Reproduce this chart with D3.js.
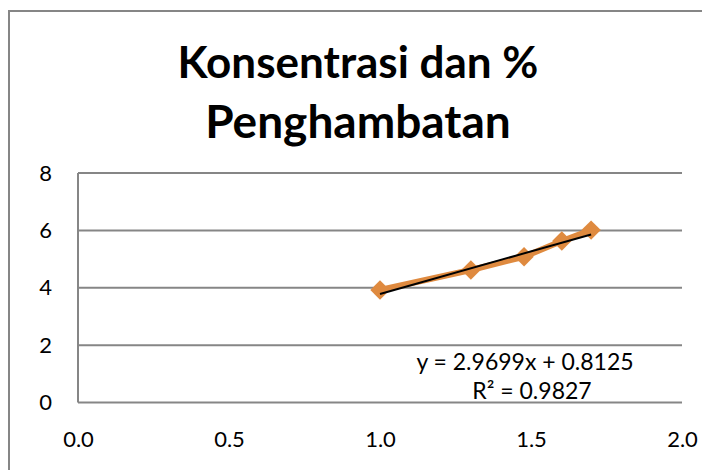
<!DOCTYPE html>
<html>
<head>
<meta charset="utf-8">
<script src="https://cdn.jsdelivr.net/npm/d3@7"></script>
<style>
  html, body { margin: 0; padding: 0; background: #fff; }
  svg { display: block; }
</style>
</head>
<body>
<svg id="chart" width="702" height="470"></svg>
<script>
'use strict';

// log10 of concentration vs probit of % inhibition
var konsentrasi = [1.0, 1.301, 1.477, 1.602, 1.699];
var penghambatan = [3.92, 4.62, 5.08, 5.63, 6.01];
var xTicks = [0, 0.5, 1.0, 1.5, 2.0];
var yTicks = [0, 2, 4, 6, 8];
var titleLines = ['Konsentrasi dan %', 'Penghambatan'];
var trendSlope = 2.9699;
var trendIntercept = 0.8125;
var trendLabels = ['y = 2.9699x + 0.8125', 'R² = 0.9827'];

var font = 'Lato, "Open Sans", sans-serif';
var gridColor = '#868686';
var orange = '#DF8A3F';

var svg = d3.select('#chart');

// outer chart border (runs off the right and bottom of the picture)
svg.append('rect')
  .attr('x', 9)
  .attr('y', 11)
  .attr('width', 720)
  .attr('height', 480)
  .attr('fill', 'none')
  .attr('stroke', gridColor)
  .attr('stroke-width', 2);

var plot = { left: 78, right: 682, top: 173, bottom: 402.5 };

var x = d3.scaleLinear().domain([0, 2]).range([plot.left, plot.right]);
var y = d3.scaleLinear().domain([0, 8]).range([plot.bottom, plot.top]);

// title
svg.append('g')
  .selectAll('text')
  .data(titleLines)
  .enter()
  .append('text')
  .attr('x', 358)
  .attr('y', function(d, i) {
    return 78 + i * 60;
  })
  .attr('text-anchor', 'middle')
  .style('font-family', font)
  .style('font-weight', 'bold')
  .style('font-size', function(d, i) {
    return i === 0 ? '44px' : '46px';
  })
  .text(function(d) {
    return d;
  });

// horizontal gridlines
svg.append('g')
  .selectAll('line')
  .data(yTicks)
  .enter()
  .append('line')
  .attr('x1', plot.left)
  .attr('x2', plot.right)
  .attr('y1', function(d) { return y(d); })
  .attr('y2', function(d) { return y(d); })
  .attr('stroke', gridColor)
  .attr('stroke-width', 2);

// value axis line
svg.append('line')
  .attr('x1', plot.left)
  .attr('x2', plot.left)
  .attr('y1', y(8))
  .attr('y2', y(0))
  .attr('stroke', gridColor)
  .attr('stroke-width', 2);

var yAxis = svg.append('g')
  .attr('transform', 'translate(' + plot.left + ',0)')
  .call(d3.axisLeft(y).tickValues(yTicks).tickSize(0).tickPadding(26).tickFormat(d3.format('d')));

var xAxis = svg.append('g')
  .attr('transform', 'translate(0,' + plot.bottom + ')')
  .call(d3.axisBottom(x).tickValues(xTicks).tickSize(0).tickPadding(29).tickFormat(d3.format('.1f')));

[xAxis, yAxis].forEach(function(axis) {
  axis.select('.domain').remove();
  axis.selectAll('text')
    .style('font-family', font)
    .style('font-size', '22px')
    .attr('fill', '#000');
});

// series line
var line = d3.line()
  .x(function(d) { return x(d[0]); })
  .y(function(d) { return y(d[1]); });

var points = d3.zip(konsentrasi, penghambatan);

svg.append('path')
  .datum(points)
  .attr('d', line)
  .attr('fill', 'none')
  .attr('stroke', orange)
  .attr('stroke-width', 6)
  .attr('stroke-linejoin', 'round');

svg.append('g')
  .selectAll('path')
  .data(points)
  .enter()
  .append('path')
  .attr('transform', function(d) {
    return 'translate(' + x(d[0]) + ',' + y(d[1]) + ')';
  })
  .attr('d', d3.symbol().type(d3.symbolDiamond2).size(240))
  .attr('fill', orange);

// linear trendline
var xExtent = d3.extent(konsentrasi);
svg.append('path')
  .datum(xExtent.map(function(v) {
    return [v, trendSlope * v + trendIntercept];
  }))
  .attr('d', line)
  .attr('fill', 'none')
  .attr('stroke', '#000')
  .attr('stroke-width', 2);

svg.append('g')
  .selectAll('text')
  .data(trendLabels)
  .enter()
  .append('text')
  .attr('x', function(d, i) {
    return i === 0 ? 525 : 532;
  })
  .attr('y', function(d, i) {
    return 370 + i * 29;
  })
  .attr('text-anchor', 'middle')
  .style('font-family', font)
  .style('font-size', '23px')
  .text(function(d) {
    return d;
  });
</script>
</body>
</html>
